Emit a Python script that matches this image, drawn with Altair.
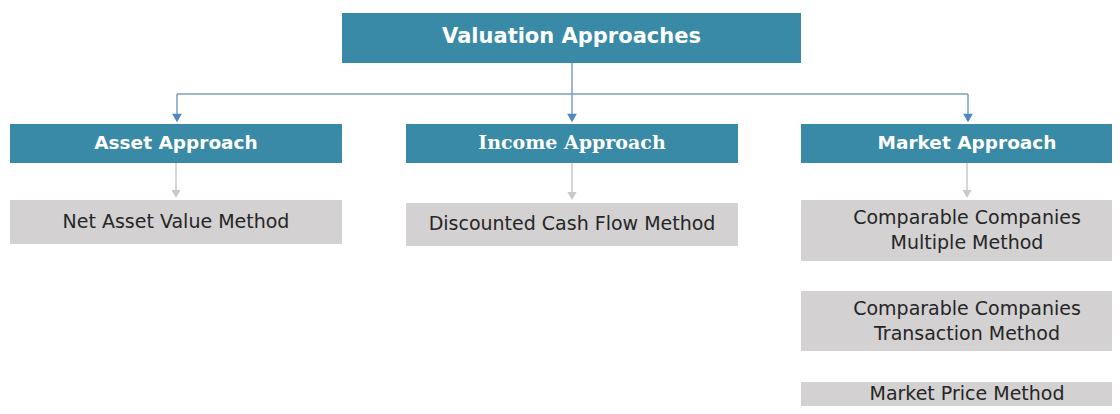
import altair as alt
import pandas as pd

# ---- content ----
root_label = ["Valuation Approaches"]
approach_labels = ["Asset Approach", "Income Approach", "Market Approach"]
method_labels = [
    "Net Asset Value Method",
    "Discounted Cash Flow Method",
    "Comparable Companies\nMultiple Method",
    "Comparable Companies\nTransaction Method",
    "Market Price Method",
]

# ---- layout (diagram coordinates, in reference pixels) ----
root_x0, root_x1, root_y0, root_y1 = [342], [801], [13], [63]
root_ty = [37]
app_x0 = [10, 406, 801]
app_x1 = [342, 738, 1133]
app_y0 = [124, 124, 124]
app_y1 = [163, 163, 163]
app_tx = [176, 572, 967]
app_ty = [143, 143, 143]
met_x0 = [10, 406, 801, 801, 801]
met_x1 = [342, 738, 1133, 1133, 1133]
met_y0 = [200, 203, 200, 291, 382]
met_y1 = [244, 246, 261, 351, 440]
met_tx = [176, 572, 967, 967, 967]
met_ty = [222, 224, 218, 309, 394]

blue_x = [572, 177, 177, 572, 968]
blue_x2 = [572, 968, 177, 572, 968]
blue_y = [63, 94, 94, 94, 94]
blue_y2 = [94, 94, 116, 116, 116]
blue_head_x = [177, 572, 968]
blue_head_y = [118, 118, 118]

gray_x = [176, 572, 967]
gray_y = [163, 163, 163]
gray_y2 = [193, 195, 193]
gray_head_y = [194, 196, 194]

TEAL = "#388aa6"
GRAY = "#d3d1d1"

root = pd.DataFrame({"label": root_label, "x0": root_x0, "x1": root_x1, "y0": root_y0, "y1": root_y1,
                     "tx": [(root_x0[0] + root_x1[0]) / 2], "ty": root_ty})
apps = pd.DataFrame({"label": approach_labels, "x0": app_x0, "x1": app_x1, "y0": app_y0, "y1": app_y1,
                     "tx": app_tx, "ty": app_ty})
mets = pd.DataFrame({"label": method_labels, "x0": met_x0, "x1": met_x1, "y0": met_y0, "y1": met_y1,
                     "tx": met_tx, "ty": met_ty})

blue = pd.DataFrame({"x": blue_x, "x2": blue_x2, "y": blue_y, "y2": blue_y2})
blue_heads = pd.DataFrame({"x": blue_head_x, "y": blue_head_y})
gray = pd.DataFrame({"x": gray_x, "y": gray_y, "y2": gray_y2})
gray_heads = pd.DataFrame({"x": gray_x, "y": gray_head_y})

xs = alt.Scale(domain=[8, 1112], nice=False, zero=False)
ys = alt.Scale(domain=[8, 406], nice=False, zero=False, reverse=True)
X = lambda f: alt.X(f, type="quantitative", scale=xs, axis=None)
Y = lambda f: alt.Y(f, type="quantitative", scale=ys, axis=None)


def boxes(df, color):
    return alt.Chart(df).mark_rect(color=color, clip=True).encode(
        x=X("x0"), x2="x1", y=Y("y0"), y2="y1"
    )


def texts(df, **kw):
    return alt.Chart(df).mark_text(align="center", baseline="middle", lineBreak="\n", **kw).encode(
        x=X("tx"), y=Y("ty"), text="label:N"
    )


blue_lines = alt.Chart(blue).mark_rule(color="#7d9fc2", strokeWidth=1.5).encode(
    x=X("x"), x2="x2", y=Y("y"), y2="y2"
)
blue_tri = alt.Chart(blue_heads).mark_point(shape="triangle-down", filled=True, opacity=1, size=95, color="#4f86c2").encode(
    x=X("x"), y=Y("y")
)
gray_lines = alt.Chart(gray).mark_rule(color="#c9c9c9", strokeWidth=1.5).encode(
    x=X("x"), y=Y("y"), y2="y2"
)
gray_tri = alt.Chart(gray_heads).mark_point(shape="triangle-down", filled=True, opacity=1, size=85, color="#c9c9c9").encode(
    x=X("x"), y=Y("y")
)

root_text = texts(root, font="DejaVu Sans", fontWeight="bold", fontSize=21, color="white")
app_text_sans = texts(apps.iloc[[0, 2]], font="DejaVu Sans", fontWeight="bold", fontSize=18.5, color="white")
app_text_serif = texts(apps.iloc[[1]], font="DejaVu Serif", fontWeight="bold", fontSize=19, color="white")
met_text = texts(mets, font="DejaVu Sans", fontSize=19, color="#262626", lineHeight=25)

chart = alt.layer(
    blue_lines, gray_lines,
    boxes(root, TEAL), boxes(apps, TEAL), boxes(mets, GRAY),
    blue_tri, gray_tri,
    root_text, app_text_sans, app_text_serif, met_text,
).properties(
    width=1104, height=398, padding=0, autosize=alt.AutoSizeParams(type="none")
).configure_view(stroke=None)

chart.save("out.html", embed_options={"renderer": "svg", "actions": False})
